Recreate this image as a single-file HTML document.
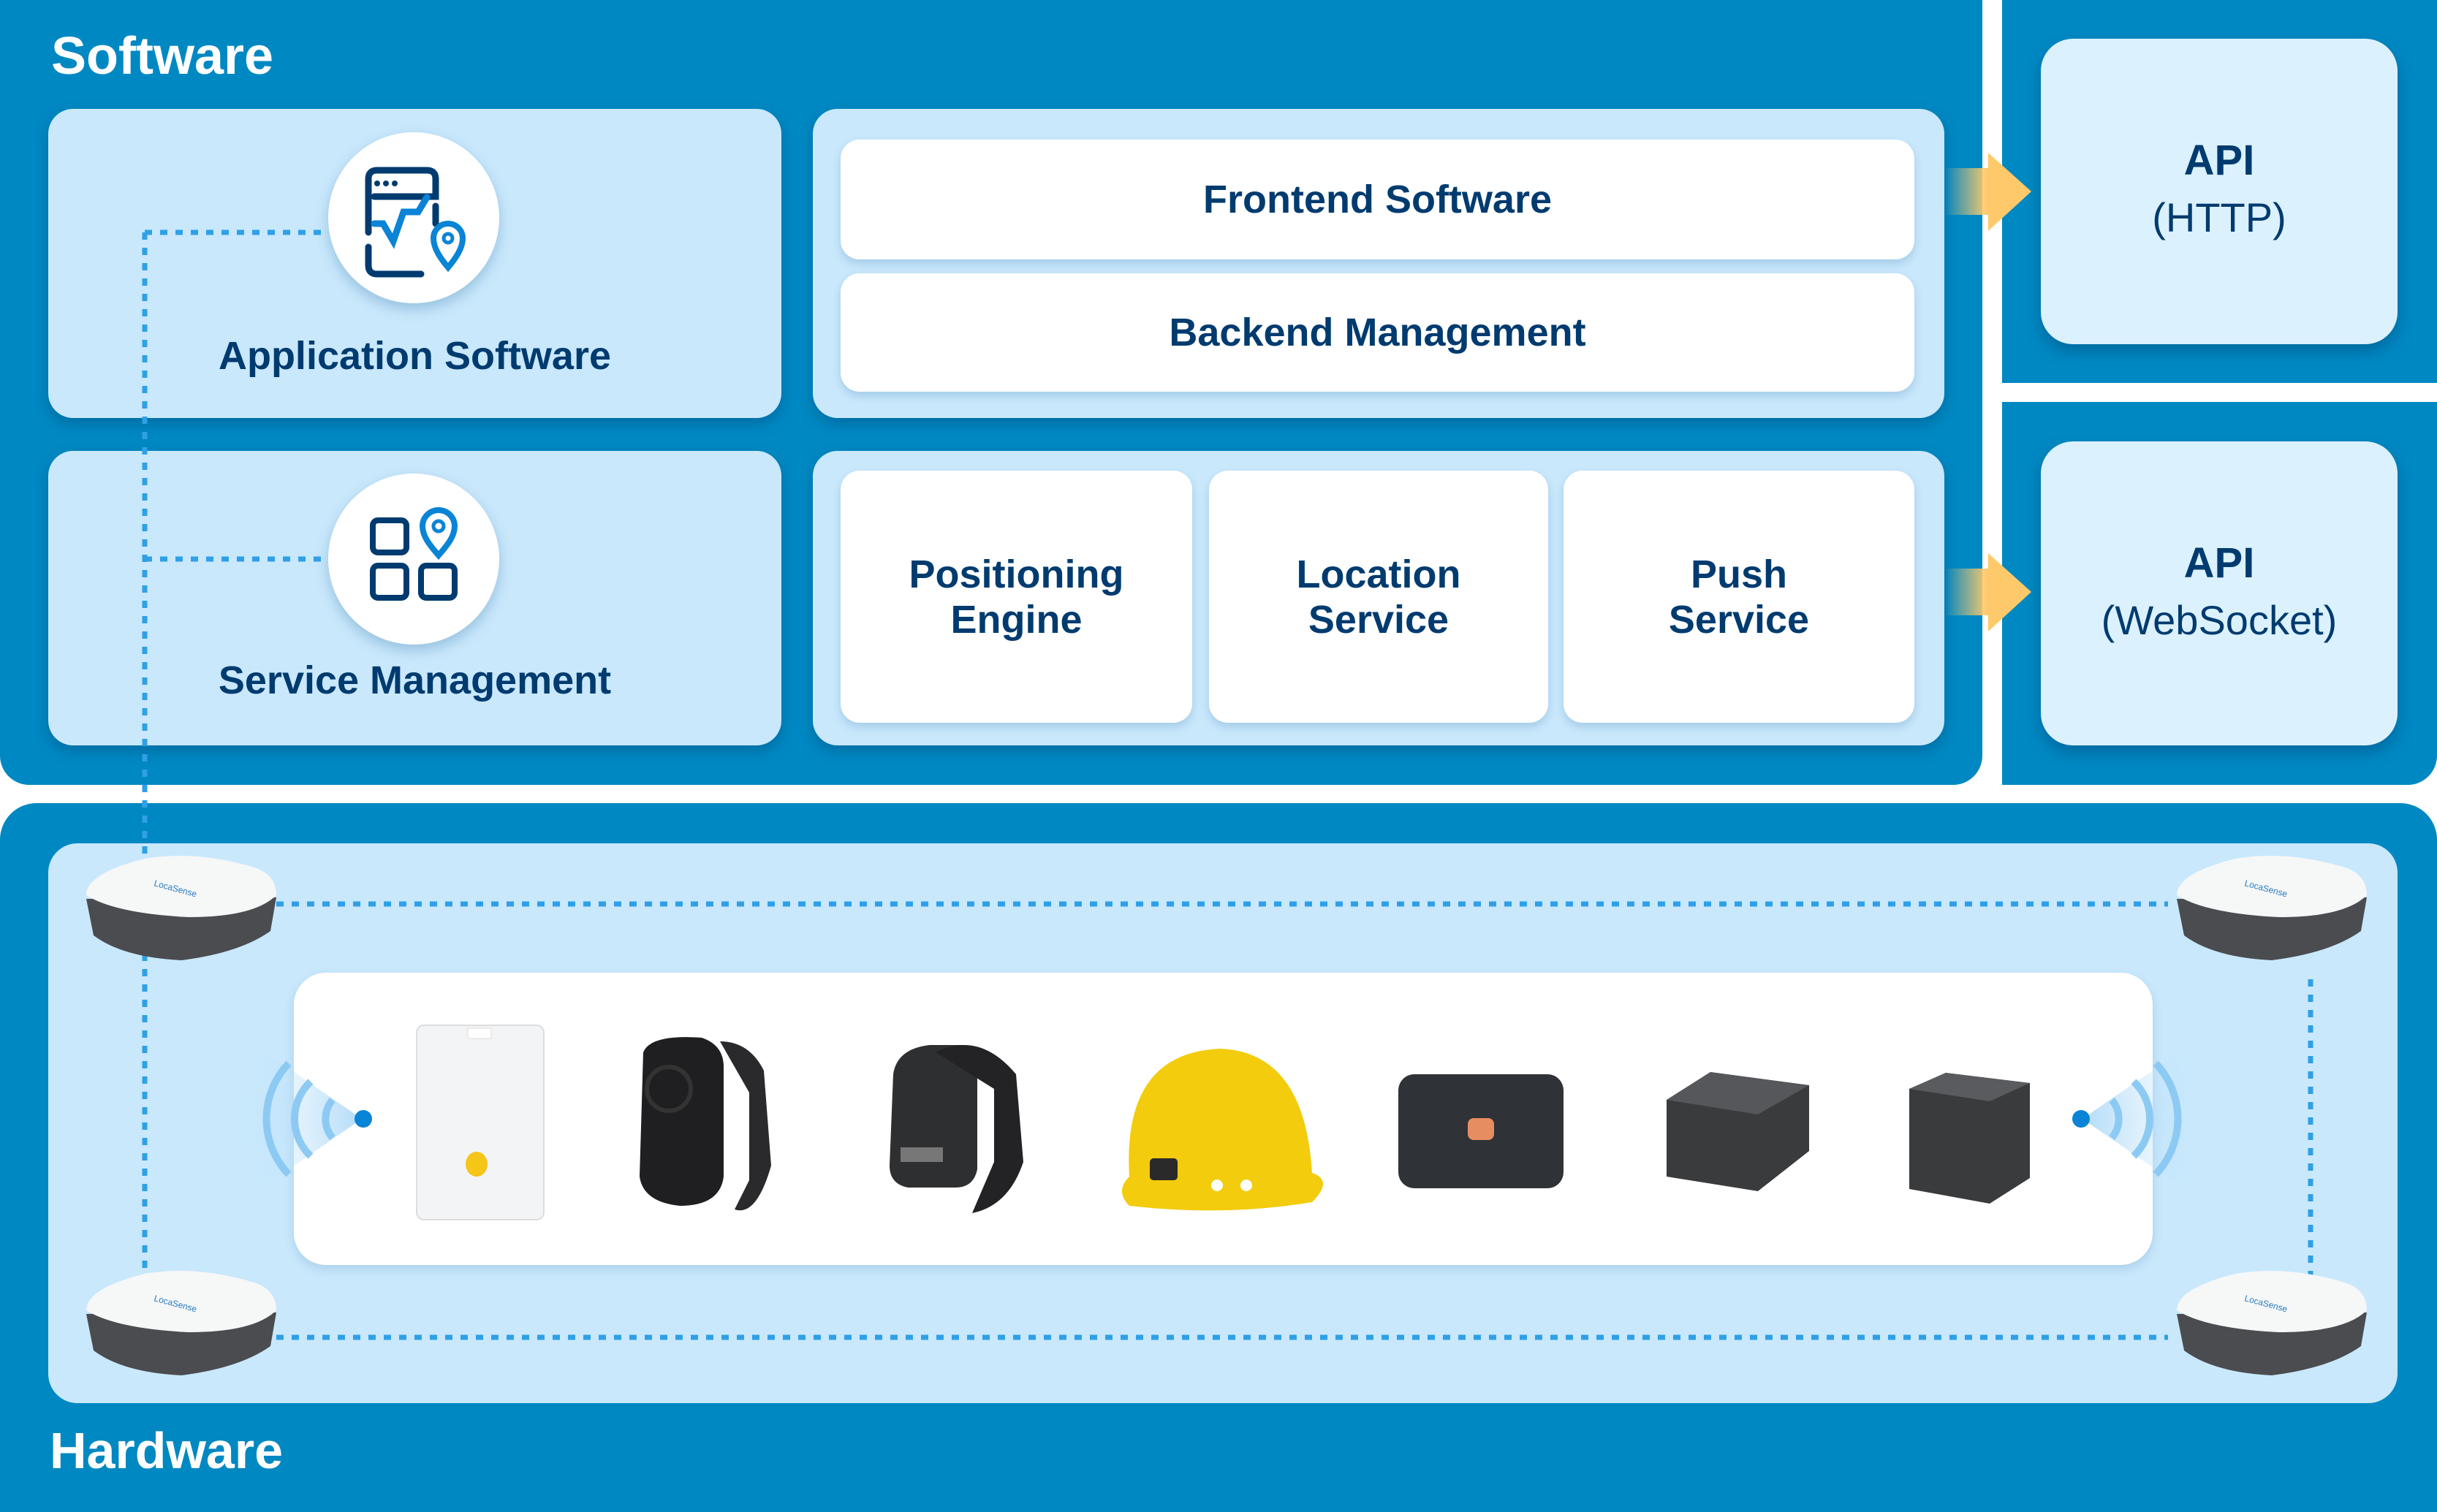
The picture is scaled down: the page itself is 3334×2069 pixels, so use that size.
<!DOCTYPE html>
<html><head><meta charset="utf-8"><style>
*{margin:0;padding:0;box-sizing:border-box}
body{width:3334px;height:2069px;background:#fff;position:relative;overflow:hidden;font-family:"Liberation Sans",sans-serif;color:#003b6f}
.a{position:absolute}
.dk{background:#0088c2}
.lt{background:#c9e8fc;border-radius:34px;box-shadow:0 8px 18px rgba(0,60,110,.35)}
.wh{background:#fff;border-radius:26px;box-shadow:0 6px 12px rgba(0,80,140,.18);display:flex;align-items:center;justify-content:center;text-align:center;font-weight:bold;font-size:54px;line-height:62px;color:#003b6f}
.lbl{font-weight:bold;font-size:54px;text-align:center}
.ttl{color:#fff;font-weight:bold;font-size:72px}
.api{background:#dcf1fe;border-radius:44px;box-shadow:0 10px 20px rgba(0,60,110,.4);text-align:center;font-size:56px;line-height:78px;padding-top:128px}
.circ{background:#fff;border-radius:50%;box-shadow:0 8px 18px rgba(0,80,140,.25)}
</style></head><body>
<div class="a dk" style="left:0;top:0;width:2712px;height:1074px;border-radius:0 0 40px 40px"></div>
<div class="a dk" style="left:2739px;top:0;width:595px;height:524px"></div>
<div class="a dk" style="left:2739px;top:550px;width:595px;height:524px;border-radius:0 0 40px 0"></div>
<div class="a dk" style="left:0;top:1099px;width:3334px;height:970px;border-radius:50px 50px 0 0"></div>

<div class="a ttl" style="left:70px;top:36px">Software</div>
<div class="a ttl" style="left:68px;top:1945px;font-size:70px">Hardware</div>

<div class="a lt" style="left:66px;top:149px;width:1003px;height:423px"></div>
<div class="a lt" style="left:66px;top:617px;width:1003px;height:403px"></div>
<div class="a lt" style="left:1112px;top:149px;width:1548px;height:423px"></div>
<div class="a lt" style="left:1112px;top:617px;width:1548px;height:403px"></div>

<div class="a wh" style="left:1150px;top:191px;width:1469px;height:164px">Frontend Software</div>
<div class="a wh" style="left:1150px;top:374px;width:1469px;height:162px">Backend Management</div>
<div class="a wh" style="left:1150px;top:644px;width:481px;height:345px">Positioning<br>Engine</div>
<div class="a wh" style="left:1654px;top:644px;width:464px;height:345px">Location<br>Service</div>
<div class="a wh" style="left:2139px;top:644px;width:480px;height:345px">Push<br>Service</div>

<div class="a api" style="left:2792px;top:53px;width:488px;height:418px"><b style="font-size:58px">API</b><br>(HTTP)</div>
<div class="a api" style="left:2792px;top:604px;width:488px;height:416px"><b style="font-size:58px">API</b><br>(WebSocket)</div>

<svg class="a" style="left:0;top:0" width="3334" height="2069">
<defs>
<linearGradient id="ar" x1="0" x2="1"><stop offset="0" stop-color="#fec96a" stop-opacity="0"/><stop offset=".5" stop-color="#fec96a"/></linearGradient>
<radialGradient id="cone" cx="1" cy=".5" r="1"><stop offset="0" stop-color="#9fd2f6"/><stop offset="1" stop-color="#c9e8fc" stop-opacity="0"/></radialGradient>
</defs>
<path d="M2660 230H2720V209L2779 262L2720 316V294H2660Z" fill="url(#ar)"/>
<path d="M2660 778H2720V757L2779 810L2720 864V842H2660Z" fill="url(#ar)"/>
</svg>

<div class="a circ" style="left:449px;top:181px;width:234px;height:234px"></div>
<div class="a circ" style="left:449px;top:648px;width:234px;height:234px"></div>
<div class="a lbl" style="left:66px;top:456px;width:1003px">Application Software</div>
<div class="a lbl" style="left:66px;top:900px;width:1003px">Service Management</div>

<!-- hardware -->
<div class="a" style="left:66px;top:1154px;width:3214px;height:766px;background:#c9e8fc;border-radius:40px"></div>
<div class="a" style="left:402px;top:1331px;width:2543px;height:400px;background:#fff;border-radius:44px;box-shadow:0 6px 14px rgba(0,80,140,.15)"></div>

<svg class="a" style="left:0;top:0" width="3334" height="2069">
<g stroke="#2fa0e6" stroke-width="7" stroke-dasharray="10 11" fill="none">
<path d="M198 318V1818M198 318H440M198 765H440"/>
<path d="M378 1237H2966M378 1830H2966M3161 1340V1745"/>
</g>
<g fill="none" stroke="#003b6f" stroke-width="9" stroke-linecap="round">
<path d="M504 318V245q0-12 12-12h68q12 0 12 12v24H512"/>
<path d="M504 338v25q0 12 12 12h60"/><path d="M596 282v24"/>
</g>
<circle cx="516" cy="251" r="4" fill="#003b6f"/><circle cx="528" cy="251" r="4" fill="#003b6f"/><circle cx="540" cy="251" r="4" fill="#003b6f"/>
<path d="M512 306h12l14 24l14-40h20l12-20" fill="none" stroke="#0a84d6" stroke-width="9" stroke-linecap="round"/>
<path d="M613 366c-10-12-20-26-20-40a20 20 0 0 1 40 0c0 14-10 28-20 40z" fill="#fff" stroke="#0a84d6" stroke-width="8"/><circle cx="613" cy="326" r="6" fill="none" stroke="#0a84d6" stroke-width="5"/>
<g fill="none" stroke="#003b6f" stroke-width="8">
<rect x="510" y="712" width="46" height="44" rx="7"/><rect x="510" y="774" width="46" height="44" rx="7"/><rect x="576" y="774" width="46" height="44" rx="7"/>
</g>
<path d="M600 760c-12-14-22-26-22-40a22 22 0 0 1 44 0c0 14-10 26-22 40z" fill="#fff" stroke="#0a84d6" stroke-width="8"/><circle cx="600" cy="720" r="7" fill="none" stroke="#0a84d6" stroke-width="5"/>

<path d="M495 1531L320 1410V1652Z" fill="url(#cone)" opacity=".8"/>
<g fill="none" stroke="#8dcaf3" stroke-width="10"><path d="M455 1505a40 40 0 0 0 0 52"/><path d="M425 1480a70 70 0 0 0 0 102"/><path d="M395 1455a110 110 0 0 0 0 152"/></g>
<circle cx="497" cy="1531" r="12" fill="#0a84d6"/>
<g transform="translate(5345 0) scale(-1 1)">
<path d="M2496 1531L2321 1410V1652Z" fill="url(#cone)" opacity=".8"/>
<g fill="none" stroke="#8dcaf3" stroke-width="10"><path d="M2456 1505a40 40 0 0 0 0 52"/><path d="M2426 1480a70 70 0 0 0 0 102"/><path d="M2396 1455a110 110 0 0 0 0 152"/></g>
<circle cx="2498" cy="1531" r="12" fill="#0a84d6"/>
</g>

<g id="rt">
<path d="M118 1230l10 50q40 30 120 34q80-10 122-40l8-46z" fill="#4a4c50"/>
<path d="M118 1225q0-30 80-50q70-12 150 12q30 10 30 38q-30 30-120 30q-100-5-140-30z" fill="#f6f7f7"/>
<text x="210" y="1212" font-size="12" fill="#2b7dc0" transform="rotate(15 210 1212)">LocaSense</text>
</g>
<use href="#rt" x="2860" y="0"/>
<use href="#rt" x="0" y="568"/>
<use href="#rt" x="2860" y="568"/>

<rect x="570" y="1403" width="174" height="266" rx="10" fill="#f3f4f6" stroke="#ddd" stroke-width="2"/>
<rect x="640" y="1407" width="32" height="14" fill="#fff" stroke="#ddd"/>
<ellipse cx="652" cy="1593" rx="15" ry="17" fill="#f5c518"/>
<path d="M880 1440q10-25 80-20q30 10 30 40v150q-5 40-60 40q-50-5-55-40z" fill="#1f1f21"/>
<path d="M985 1425q40 0 60 40l10 130q-20 70-50 60l20-40v-120z" fill="#2a2a2c"/>
<circle cx="915" cy="1490" r="30" fill="none" stroke="#333" stroke-width="6"/>
<path d="M1222 1470q5-35 50-40h45q20 5 20 30v140q-5 25-30 25h-65q-25-5-25-30z" fill="#2e2f31"/>
<path d="M1280 1440q60-30 110 30l10 120q-20 60-70 70l30-70v-100z" fill="#232325"/>
<rect x="1232" y="1570" width="58" height="20" fill="#777"/>
<path d="M1545 1610q-10-170 125-175q115 5 125 170q30 10 0 40q-120 20-250 5q-20-20 0-40z" fill="#f2cc0d"/>
<rect x="1573" y="1585" width="38" height="30" rx="5" fill="#2a2a2a"/>
<circle cx="1665" cy="1622" r="8" fill="#fff"/><circle cx="1705" cy="1622" r="8" fill="#fff"/>
<rect x="1913" y="1470" width="226" height="156" rx="22" fill="#2f3236"/>
<rect x="2008" y="1530" width="36" height="30" rx="8" fill="#e68d62"/>
<path d="M2280 1505l60-38l135 18v90l-70 55l-125-20z" fill="#3a3b3d"/>
<path d="M2280 1505l60-38l135 18l-70 40z" fill="#55575a"/>
<path d="M2612 1490l50-22l115 14v130l-55 35l-110-20z" fill="#3a3b3d"/>
<path d="M2612 1490l50-22l115 14l-55 25z" fill="#5a5b5e"/>
</svg>
</body></html>
